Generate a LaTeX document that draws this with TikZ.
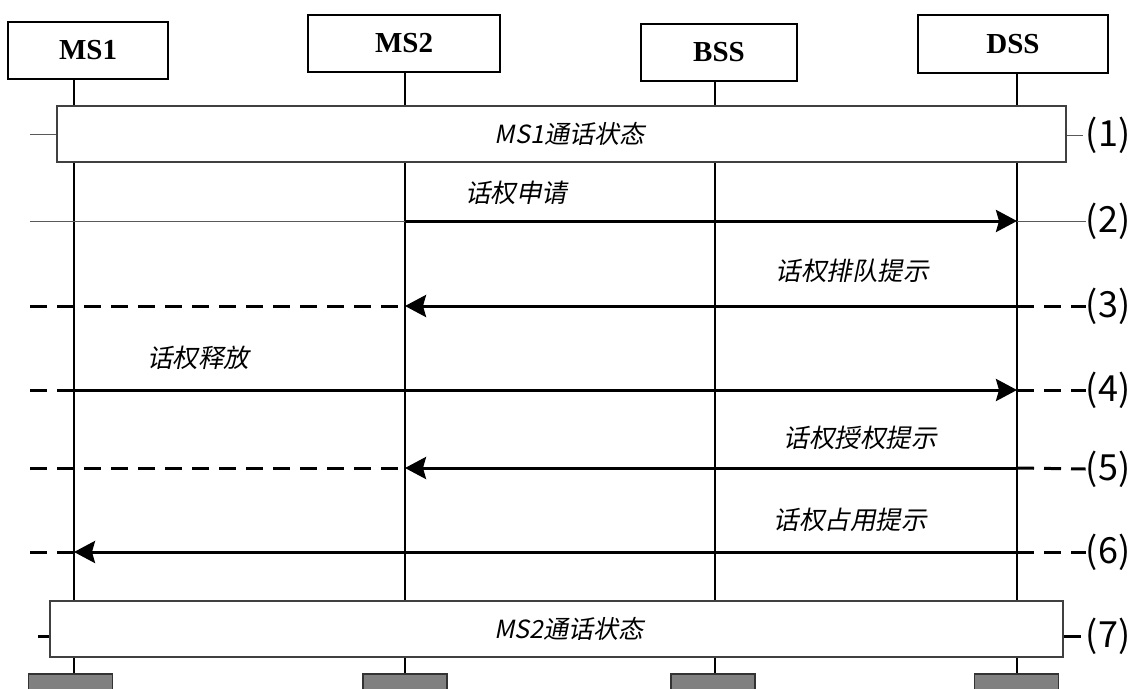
\documentclass[tikz,border=0pt]{standalone}
\usepackage{fontspec}
\setmainfont{Liberation Serif}
\newfontfamily\cjk[FakeSlant=0.2]{Noto Sans CJK SC}
\newfontfamily\numfont{Noto Sans CJK SC}
\usetikzlibrary{arrows.meta}
\begin{document}
\begin{tikzpicture}[x=1pt,y=-1pt,
  hdr/.style={draw=black,line width=1.8pt,fill=white,inner sep=0pt,font=\bfseries\fontsize{29}{29}\selectfont},
  statebox/.style={draw=black!75,line width=1.2pt,fill=white,inner sep=0pt,font=\cjk\fontsize{25}{25}\selectfont},
  life/.style={line width=1.6pt},
  msg/.style={line width=3pt,-{Stealth[length=21pt,width=22pt,inset=3pt]}},
  dsh/.style={line width=3pt,dash pattern=on 17pt off 10pt},
  thinl/.style={line width=1pt,draw=black!65},
  lbl/.style={font=\cjk\fontsize{25.5}{25.5}\selectfont,inner sep=0pt},
  num/.style={font=\numfont\fontsize{36}{36}\selectfont,inner sep=0pt},
  foot/.style={draw=black!80,fill=black!50,line width=1.2pt,minimum width=84pt,minimum height=24pt,inner sep=0pt}
]
\useasboundingbox (0,0) rectangle (1134,688);
\fill[white] (0,0) rectangle (1134,688);

% lifeline x positions
\coordinate (L1) at (74,0);
\coordinate (L2) at (405,0);
\coordinate (L3) at (715,0);
\coordinate (L4) at (1017,0);

% headers
\node[hdr,minimum width=160pt,minimum height=57pt] (MS1) at (88,50.5) {MS1};
\node[hdr,minimum width=192pt,minimum height=57pt] (MS2) at (404,43.5) {MS2};
\node[hdr,minimum width=156pt,minimum height=57pt] (BSS) at (719,52.5) {BSS};
\node[hdr,minimum width=190pt,minimum height=58pt] (DSS) at (1013,44) {DSS};

% feet
\node[foot] (F1) at (70.5,686) {};
\node[foot] (F2) at (405,686) {};
\node[foot] (F3) at (713,686) {};
\node[foot] (F4) at (1016.5,686) {};

% lifelines
\draw[life] (MS1.south -| L1) -- (F1.north -| L1);
\draw[life] (MS2.south -| L2) -- (F2.north -| L2);
\draw[life] (BSS.south -| L3) -- (F3.north -| L3);
\draw[life] (DSS.south -| L4) -- (F4.north -| L4);

% state boxes
\node[statebox,minimum width=1009pt,minimum height=56pt] (S1) at (561.5,134) {\hspace*{16pt}MS1通话状态};
\node[statebox,minimum width=1013pt,minimum height=56pt] (S2) at (556.5,629) {\hspace*{25pt}MS2通话状态};

% step numbers
\node[num] (n1) at (1108,135) {(1)};
\node[num] (n2) at (1108,221) {(2)};
\node[num] (n3) at (1108,306) {(3)};
\node[num] (n4) at (1108,390) {(4)};
\node[num] (n5) at (1108,469) {(5)};
\node[num] (n6) at (1108,552) {(6)};
\node[num] (n7) at (1108,636) {(7)};

% (1)
\coordinate (a1) at (30,134);
\draw[thinl] (a1) -- (S1.west |- a1);
\draw[thinl] (S1.east |- n1) -- ([xshift=-3pt]n1.west);

% (2)
\coordinate (a2) at (30,221);
\coordinate (m2s) at (405,221);
\coordinate (m2e) at (1017,221);
\draw[thinl] (a2) -- (m2s);
\draw[thinl] (m2e) -- (n2.west);
\draw[msg] (m2s) -- (m2e);
\node[lbl] (t2) at (516,193) {话权申请};

% (3)
\coordinate (a3) at (30,306);
\coordinate (m3s) at (1017,306);
\coordinate (m3e) at (405,306);
\draw[dsh] (a3) -- (m3e);
\draw[dsh] (m3s) -- (n3.west);
\draw[msg] (m3s) -- (m3e);
\node[lbl] (t3) at (852,271) {话权排队提示};

% (4)
\coordinate (a4) at (30,390);
\coordinate (m4s) at (74,390);
\coordinate (m4e) at (1017,390);
\draw[dsh] (a4) -- (m4s);
\draw[dsh] (m4e) -- (n4.west);
\draw[msg] (m4s) -- (m4e);
\node[lbl] (t4) at (198,358) {话权释放};

% (5)
\coordinate (a5) at (30,468);
\coordinate (m5s) at (1017,468);
\coordinate (m5e) at (405,468);
\draw[dsh] (a5) -- (m5e);
\draw[dsh] (m5s) -- (n5.west);
\draw[msg] (m5s) -- (m5e);
\node[lbl] (t5) at (860,438) {话权授权提示};

% (6)
\coordinate (a6) at (30,552);
\coordinate (m6s) at (1017,552);
\coordinate (m6e) at (74,552);
\draw[dsh] (a6) -- (m6e);
\draw[dsh] (m6s) -- (n6.west);
\draw[msg] (m6s) -- (m6e);
\node[lbl] (t6) at (850,520) {话权占用提示};

% (7)
\coordinate (a7) at (38,636);
\draw[line width=3pt] (a7) -- (S2.west |- a7);
\draw[line width=3pt] (S2.east |- n7) -- ([xshift=-5pt]n7.west);
\end{tikzpicture}
\end{document}
